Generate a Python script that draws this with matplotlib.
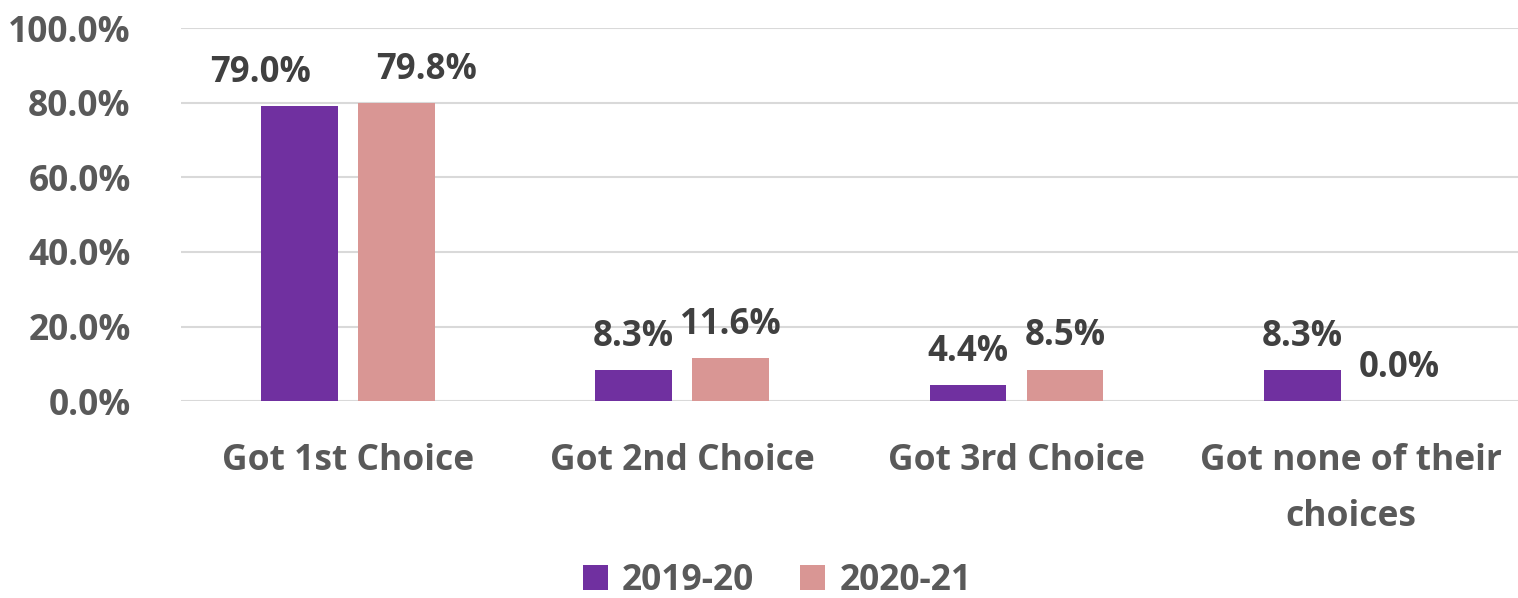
import matplotlib.pyplot as plt
import numpy as np

categories = ['Got 1st Choice', 'Got 2nd Choice', 'Got 3rd Choice', 'Got none of their\nchoices']
series_names = ['2019-20', '2020-21']
vals_2019 = [79.0, 8.3, 4.4, 8.3]
vals_2020 = [79.8, 11.6, 8.5, 0.0]
colors = ['#7030A0', '#D99694']

plt.rcParams['font.family'] = ['Open Sans', 'DejaVu Sans']
plt.rcParams['font.weight'] = 'bold'

fig = plt.figure(figsize=(15.18, 5.98), dpi=100)
ax = fig.add_axes([0.119, 0.329, 0.881, 0.624])

x = np.arange(len(categories))
w = 0.23
off = 0.145
# first group labels are pushed apart so they don't collide (as in the source)
nudge = [[-28, 0, 0, 0], [22, 0, 0, 0]]
series = [(vals_2019, series_names[0], colors[0], -off),
          (vals_2020, series_names[1], colors[1], off)]
for k, (vals, name, c, dx) in enumerate(series):
    bars = ax.bar(x + dx, vals, width=w, color=c, label=name)
    for j, (b, v) in enumerate(zip(bars, vals)):
        ax.annotate(f'{v:.1f}%', (b.get_x() + b.get_width() / 2, v),
                    xytext=(nudge[k][j], 11), textcoords='offset points',
                    ha='center', va='bottom', fontsize=25,
                    fontweight='bold', color='#404040')

ax.set_xlim(-0.5, len(categories) - 0.5)
ax.set_ylim(0, 100)
ax.set_yticks(np.arange(0, 101, 20))
ax.set_yticklabels([f'{t:.1f}%' for t in np.arange(0, 101, 20)])
ax.set_xticks(x)
ax.set_xticklabels(categories, linespacing=1.75)
ax.tick_params(axis='y', length=0, pad=36, labelsize=25.5, labelcolor='#595959')
ax.tick_params(axis='x', length=0, pad=30, labelsize=25.5, labelcolor='#595959')
for s in ax.spines.values():
    s.set_visible(False)
ax.grid(axis='y', color='#D9D9D9', linewidth=1.5)
ax.set_axisbelow(True)

leg = fig.legend(loc='lower center', bbox_to_anchor=(0.512, -0.055), ncol=2,
                 frameon=False, fontsize=25.5, handlelength=0.7, handleheight=0.7,
                 handletextpad=0.4, columnspacing=1.3)
for t in leg.get_texts():
    t.set_color('#595959')

fig.savefig('out.png', dpi=100)
